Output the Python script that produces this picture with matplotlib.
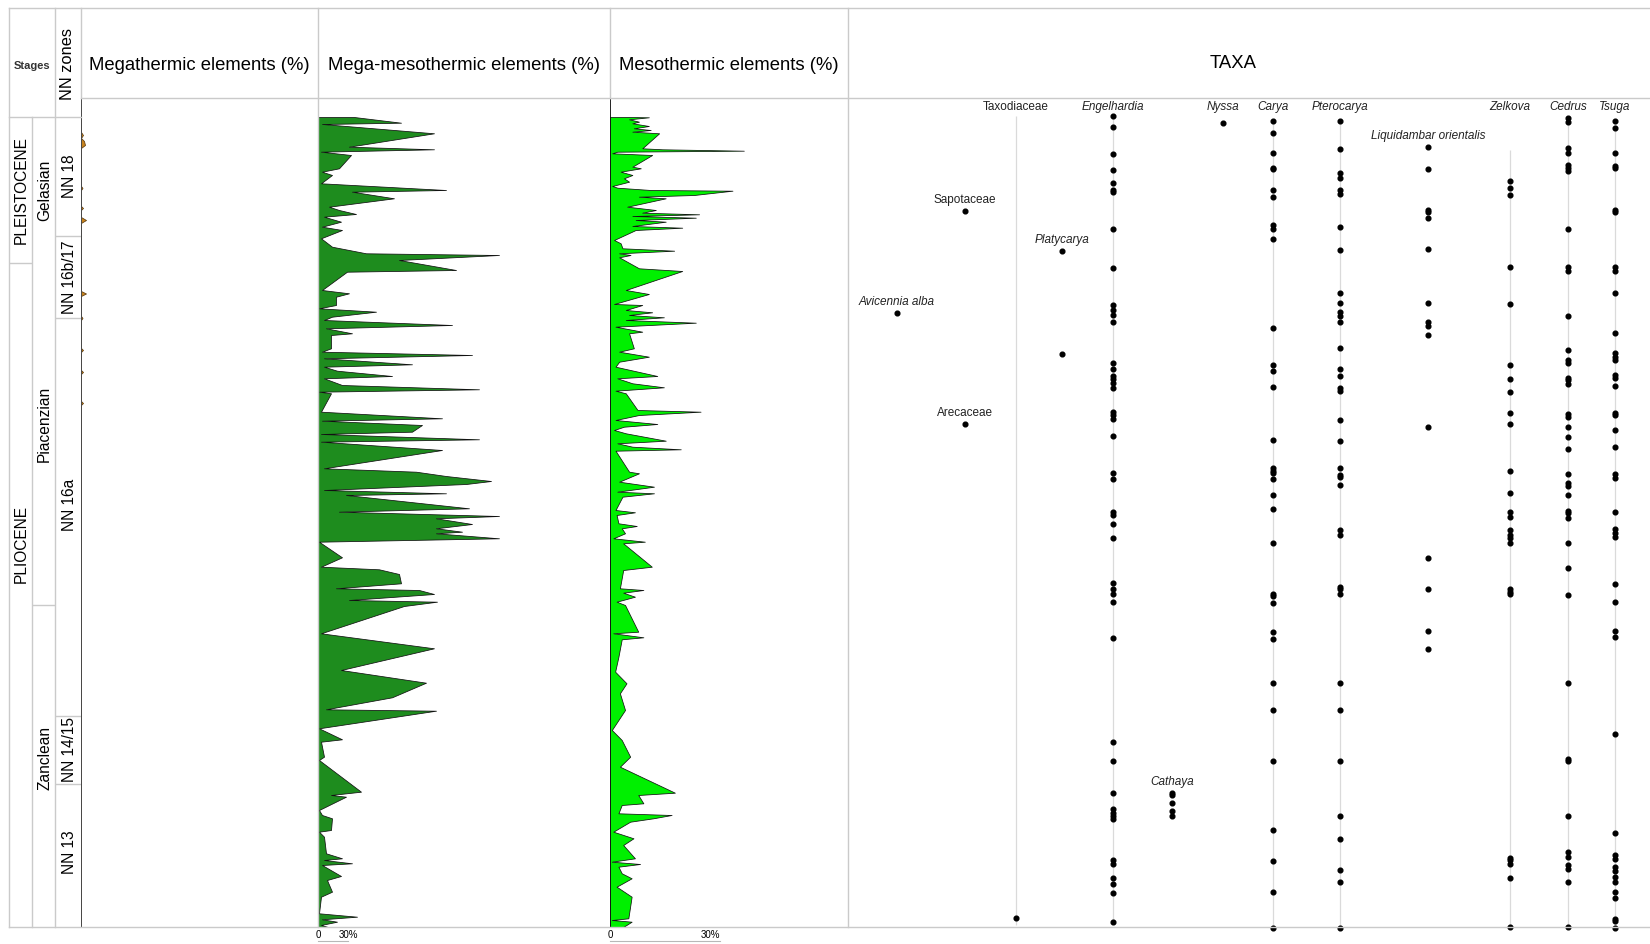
import matplotlib
matplotlib.use("Agg")
import matplotlib.pyplot as plt
from matplotlib.lines import Line2D

plt.rcParams['font.family'] = ['Liberation Sans', 'DejaVu Sans']

# ---------------------------------------------------------------- data
# depth is in arbitrary log units (top of record = 117, base = 927)
epochs = ['PLEISTOCENE', 'PLIOCENE']
epoch_label_at = [190, 544]
epoch_bounds = [263]

stages = ['Gelasian', 'Piacenzian', 'Zanclean']
stage_label_at = [190, 424, 758]
stage_bounds = [605]

nn_zones = ['NN 18', 'NN 16b/17', 'NN 16a', 'NN 14/15', 'NN 13']
nn_label_at = [176, 277, 505, 750, 852]
nn_bounds = [236, 318, 716, 784]

# Megathermic elements (%)
mega_depth = [117, 132, 135, 138, 141, 145, 148, 186, 188, 190, 206, 208, 210,
              217, 220, 223, 291, 293.5, 296, 316, 318, 320, 348, 350, 352,
              370, 372, 374, 401, 403, 405, 927]
mega_val = [0, 0, 2, 0, 3, 4, 0, 0, 1.5, 0, 0, 2, 0, 0, 5, 0, 0, 5, 0, 0, 1.5, 0,
            0, 2, 0, 0, 2, 0, 0, 2, 0, 0]

# Mega-mesothermic elements (%)
mm_depth = [117, 122.7, 124, 133.3, 146.7, 149.3, 151.7, 155, 168.3, 171.7,
            175, 183.3, 190, 191.7, 198.3, 206.7, 210, 214, 216.7, 221.7,
            226.7, 230, 238.3, 246.7, 253.3, 255, 260, 270, 271.7, 290,
            293.3, 296.7, 305, 308.3, 311.7, 316.7, 320, 325, 328.3, 333.3,
            335, 348.3, 351.7, 355, 358.3, 364.3, 366.7, 370.7, 376, 378.3,
            385, 389.3, 391.7, 393.3, 411.7, 418.3, 420.7, 425, 431.7, 434,
            439.3, 441.7, 450, 468.3, 471.7, 476, 481, 484, 490, 493.3,
            495, 508.3, 511.7, 516, 518.3, 524, 528.3, 531.7, 533.3, 538.3,
            541.7, 557.3, 566.7, 569.3, 574, 583.3, 588.3, 590, 594, 600,
            601.7, 606, 633.3, 648.3, 670, 682.7, 697.3, 709.3, 710.7, 728.3,
            739.3, 741.7, 756.7, 760, 791.7, 795, 796.7, 810, 815, 818.3,
            830, 831.7, 836.7, 853.3, 858.3, 860, 863.3, 865, 876, 880,
            891.7, 896.7, 913.3, 916.7, 919.3, 921.7, 925, 927]
mm_val = [36, 83, 4, 116, 31, 116, 3, 33, 21, 4,
          14, 3, 128, 34, 76, 11, 21, 38, 6, 23,
          4, 24, 3, 14, 48, 181, 81, 138, 29, 4,
          31, 18, 18, 1, 58, 14, 6, 134, 8, 34,
          13, 13, 4, 154, 6, 94, 6, 19, 74, 6,
          24, 161, 1, 13, 3, 124, 4, 104, 94, 3,
          161, 3, 124, 6, 98, 128, 173, 148, 6, 128,
          28, 151, 21, 181, 118, 154, 118, 144, 118, 181,
          1, 24, 3, 61, 81, 83, 18, 101, 116, 31,
          119, 86, 3, 116, 23, 108, 74, 8, 118, 1,
          24, 3, 6, 1, 43, 13, 28, 1, 4, 14,
          13, 1, 6, 8, 24, 6, 34, 4, 23, 9,
          14, 3, 1, 39, 4, 19, 3, 10]

# Mesothermic elements (%)
meso_depth = [117, 117.3, 119.3, 121.7, 123.3, 126, 128.3, 130, 131.7, 133.3,
              148.3, 149.3, 150.7, 151.7, 153.3, 155, 166.7, 168.3, 171.7, 175,
              178.3, 181.7, 186, 187.7, 190, 190.7, 195, 196.7, 198.3, 206.7,
              210, 212.7, 214.3, 216, 217.7, 220, 221.7, 226, 227.7, 230,
              240, 243.3, 248.3, 250.7, 253.3, 255, 257.3, 268.3, 271, 290,
              294, 298.3, 304, 305, 310, 312.3, 315, 317.3, 320, 322.7,
              326.7, 331.7, 333.3, 348.3, 351.7, 356.7, 361.7, 366.7, 376, 378.3,
              383.3, 387.3, 390.7, 393.3, 410, 411.7, 415, 420, 424, 426.7,
              430, 433.3, 440.7, 443.3, 446.7, 449.3, 450.7, 471.7, 473.3, 481.7,
              486.7, 491.7, 493.3, 496.7, 510, 512.3, 515, 523.3, 526, 528.3,
              533.3, 538.3, 541.7, 543.3, 566.7, 570, 588.3, 590, 592.7, 596.7,
              601.7, 605, 631.7, 633.3, 637.3, 639.3, 656.7, 671.7, 683.3, 693.3,
              710, 730, 740, 756.7, 766.7, 792.7, 795, 803.3, 805, 813.3,
              815, 818.3, 821.7, 831.7, 838.3, 845, 858.3, 861.7, 864, 866.7,
              873.3, 878.3, 886.7, 896.7, 918.3, 920, 921.7, 927]
meso_val = [5.2, 10.6, 5.2, 7.9, 6.1, 10.6, 6.5, 11.1, 6.1, 13.4,
            8.8, 14.3, 36.5, 2.0, 0.6, 11.5, 6.1, 8.4, 2.9, 6.1,
            3.8, 5.2, 0.6, 2.0, 11.1, 33.4, 22.9, 7.9, 15.2, 4.7,
            12.5, 8.8, 24.3, 6.1, 23.4, 7.0, 15.2, 6.1, 19.7, 7.0,
            1.1, 2.9, 3.4, 17.5, 2.5, 5.6, 2.5, 7.9, 19.7, 4.3,
            10.6, 6.5, 1.1, 8.8, 4.3, 11.5, 5.2, 14.7, 4.3, 23.4,
            1.5, 8.8, 5.2, 6.5, 2.5, 10.6, 2.5, 1.5, 12.9, 2.0,
            6.1, 14.7, 1.5, 4.3, 7.5, 24.7, 7.9, 1.5, 12.9, 3.8,
            1.1, 4.3, 15.2, 2.0, 6.1, 19.3, 1.5, 5.2, 7.9, 2.5,
            12.0, 2.0, 12.0, 3.4, 1.5, 6.8, 1.8, 2.3, 7.3, 3.2,
            4.1, 0.9, 9.5, 3.6, 11.4, 3.6, 2.7, 9.1, 3.6, 6.8,
            1.8, 4.1, 7.7, 0.9, 9.1, 3.2, 2.3, 1.4, 4.5, 2.7,
            4.1, 0.5, 3.2, 5.5, 2.7, 17.7, 7.7, 9.1, 3.2, 2.3,
            16.8, 11.8, 5.5, 0.9, 6.4, 3.6, 6.8, 0.5, 8.2, 2.3,
            3.2, 5.9, 1.8, 5.9, 5.0, 0.5, 5.9, 3.6]

# Taxa occurrences (depths of samples where the taxon is recorded)
occ_taxodiaceae = [917.7]
occ_sapotaceae = [211.3]
occ_arecaceae = [423.7]
occ_avicennia = [313.3]
occ_platycarya = [250.7, 354]
occ_engelhardia = [116, 127, 153.6, 170, 182.7, 190, 192.3, 229, 267.7, 305, 310,
                   315, 321.7, 362.7, 369.3, 376, 379.3, 382.7, 387.7, 411.7, 415,
                   419.3, 436.3, 472.7, 479, 511.7, 515, 524, 538.3, 583.3, 589,
                   594.3, 602, 638.3, 741.7, 760.7, 792.7, 809.3, 812.7, 816,
                   819.3, 860, 864.3, 877.7, 883.7, 892.7, 922.3]
occ_cathaya = [793, 795, 803.3, 811, 816]
occ_nyssa = [123]
occ_carya = [121, 132.6, 153.3, 167.7, 169.3, 190, 196.7, 225, 229, 238.7, 327.7,
             365, 370.7, 386.7, 440, 468.3, 471, 473.3, 479, 495, 509, 542.7,
             594.3, 596, 602.7, 631.7, 639, 682.7, 710.3, 760.7, 830, 860.7,
             892.3, 928]
occ_pterocarya = [121, 149.3, 173.3, 177.7, 190, 194.3, 227, 250, 293, 303,
                  311.7, 316, 322, 348, 369.3, 375.7, 388.3, 390.7, 420, 441,
                  468.3, 475, 476.7, 485, 530, 535, 587.3, 589.3, 594.3, 682.7,
                  710.3, 760.7, 815.7, 839, 870, 881.7, 928]
occ_liquidambar = [146.7, 169.3, 210, 212.3, 218.3, 249.3, 302.7, 322, 326, 334.7,
                   426.7, 557.7, 589.3, 630.7, 649.3]
occ_zelkova = [180.7, 187.7, 195, 267.3, 303.7, 365, 379.3, 392.3, 413.3, 424, 471,
               492.7, 512.3, 517.3, 530, 535.5, 538.5, 542.7, 589.3, 591.7, 594.3,
               857.7, 860, 864.3, 878.3, 926.7]
occ_cedrus = [118, 122, 148.3, 153.3, 165, 168.3, 170.7, 229, 267.3, 271, 315.7,
              350, 360, 363.3, 377.7, 380, 383.7, 414, 417.3, 427.3, 436.7, 449.3,
              474.3, 483.3, 485.7, 495, 510.7, 513.3, 517.7, 542.7, 567.7, 595,
              682.7, 759.3, 761, 816, 851.7, 857.3, 865, 869, 881.7, 926.7]
occ_tsuga = [121, 128.4, 153.3, 165.7, 167.7, 210, 211.7, 267.3, 271, 292.7, 332.7,
             353.3, 356.7, 360, 375, 378.3, 385.7, 413.3, 415.3, 430, 447.3, 474.3,
             478.3, 512.3, 529.3, 533.3, 536.7, 584, 602, 630.7, 637, 734.3, 833.3,
             855, 859.3, 866.7, 871, 876.7, 882, 891.7, 898.3, 919.3, 921, 927.7]

# continuous (near-zero) curve extent for the main taxa
range_taxa = ['Taxodiaceae', 'Engelhardia', 'Carya', 'Pterocarya', 'Zelkova', 'Cedrus', 'Tsuga']
range_top = [116, 116, 121, 121, 150, 118, 121]
range_base = [925, 922, 928, 928, 927, 927, 928]

# ---------------------------------------------------------------- layout
W, H = 1650, 944
fig = plt.figure(figsize=(W / 100, H / 100), dpi=100)

TOP, HDR, PROF, BOT = 8, 98, 117, 927
X_EP, X_ST, X_NN, X_MEGA, X_MM, X_MESO, X_TAXA, X_END = 9, 32, 55, 81, 318, 610, 848, 1650
D_TOP, D_BOT, D_HDR = 117, 927, 98   # depth range of the record / header limit

def rect(x0, y0, x1, y1):
    return [x0 / W, 1 - y1 / H, (x1 - x0) / W, (y1 - y0) / H]

def fx(x):
    return x / W

def fy(y):
    return 1 - y / H

GRID = '#cacaca'

def hline(y, x0, x1, c=GRID, lw=1.0):
    fig.add_artist(Line2D([fx(x0), fx(x1)], [fy(y), fy(y)], color=c, lw=lw))

def vline(x, y0, y1, c=GRID, lw=1.0):
    fig.add_artist(Line2D([fx(x), fx(x)], [fy(y0), fy(y1)], color=c, lw=lw))

# frame
hline(TOP, X_EP, X_END)
hline(BOT, X_EP, X_END)
hline(HDR, X_MEGA, X_END)
hline(PROF, X_EP, X_MEGA)
vline(X_EP, TOP, BOT)
vline(X_ST, PROF, BOT)
vline(X_NN, TOP, BOT)
vline(X_MEGA, TOP, HDR)
vline(X_MM, TOP, BOT)
vline(X_MESO, TOP, HDR)
vline(X_TAXA, TOP, BOT)

# headers
def ftext(x, y, s, **kw):
    fig.text(fx(x), fy(y), s, ha='center', va='center', **kw)

ftext(32, 66, 'Stages', fontsize=8, fontweight='bold', color='#333333')
ftext(68, 64, 'NN zones', fontsize=11.8, rotation=90)
ftext(199, 65, 'Megathermic elements (%)', fontsize=13.3)
ftext(464, 65, 'Mega-mesothermic elements (%)', fontsize=13.3)
ftext(729, 65, 'Mesothermic elements (%)', fontsize=13.3)
ftext(1233, 63, 'TAXA', fontsize=13.3)

# chronostratigraphic columns
def chrono(x0, x1, names, label_at, bounds):
    ax = fig.add_axes(rect(x0, PROF, x1, BOT))
    ax.set_xlim(0, 1)
    ax.set_ylim(D_BOT, D_TOP)
    ax.axis('off')
    for b in bounds:
        ax.axhline(b, color=GRID, lw=1.0)
    for n, d in zip(names, label_at):
        ax.text(0.55, d, n, rotation=90, ha='center', va='center', fontsize=11.2)

chrono(X_EP, X_ST, epochs, epoch_label_at, epoch_bounds)
chrono(X_ST, X_NN, stages, stage_label_at, stage_bounds)
chrono(X_NN, X_MEGA, nn_zones, nn_label_at, nn_bounds)

# percentage panels
def profile(x0, x1, depth, val, xmax, face, edge, base_c, base_lw):
    ax = fig.add_axes(rect(x0, HDR, x1, BOT))
    ax.set_xlim(0, xmax)
    ax.set_ylim(D_BOT, D_HDR)
    ax.axis('off')
    ax.fill_betweenx(depth, 0, val, facecolor=face, edgecolor=edge, lw=0.55)
    ax.vlines(0, D_HDR, D_BOT, color=base_c, lw=base_lw)
    return ax

MM_SCALE = 1.0            # 30 % = 30 px on the mega-mesothermic scale bar
MESO_SCALE = 110 / 30     # 30 % = 110 px on the mesothermic scale bar

ax_mega = profile(X_MEGA, X_MM, mega_depth, mega_val, (X_MM - X_MEGA) / MM_SCALE,
                  '#c8841f', '#5c3a0c', '#4a4a4a', 1.4)
ax_mm = profile(X_MM, X_MESO, mm_depth, mm_val, (X_MESO - X_MM) / MM_SCALE,
                '#1e8c1e', '#111111', '#9c9c9c', 1.3)
ax_meso = profile(X_MESO, X_TAXA, meso_depth, meso_val, (X_TAXA - X_MESO) / MESO_SCALE,
                  '#00f000', '#111111', '#111111', 1.3)

# scale bars
for ax, lab_ha in ((ax_mm, 'center'), (ax_meso, 'right')):
    ax.plot([0, 30], [941, 941], color='#b8b8b8', lw=0.8, clip_on=False)
    ax.text(0, 935.5, '0', fontsize=7, ha='center', va='center', clip_on=False)
    ax.text(30, 935.5, '30%', fontsize=7, ha=lab_ha, va='center', clip_on=False)

# taxa panel
axT = fig.add_axes(rect(X_TAXA, HDR, X_END, BOT))
axT.set_xlim(0, X_END - X_TAXA)
axT.set_ylim(D_BOT, D_HDR)
axT.axis('off')

TAXA_X = {'Avicennia alba': 49, 'Sapotaceae': 117, 'Arecaceae': 117,
          'Taxodiaceae': 168, 'Platycarya': 214, 'Engelhardia': 265,
          'Cathaya': 324, 'Nyssa': 375, 'Carya': 425, 'Pterocarya': 492,
          'Liquidambar orientalis': 580, 'Zelkova': 662, 'Cedrus': 720,
          'Tsuga': 767}

taxa = [
    ('Taxodiaceae', occ_taxodiaceae, 'normal', 'top'),
    ('Sapotaceae', occ_sapotaceae, 'normal', 'inline'),
    ('Arecaceae', occ_arecaceae, 'normal', 'inline'),
    ('Avicennia alba', occ_avicennia, 'italic', 'inline'),
    ('Platycarya', occ_platycarya, 'italic', 'inline'),
    ('Engelhardia', occ_engelhardia, 'italic', 'top'),
    ('Cathaya', occ_cathaya, 'italic', 'inline'),
    ('Nyssa', occ_nyssa, 'italic', 'top'),
    ('Carya', occ_carya, 'italic', 'top'),
    ('Pterocarya', occ_pterocarya, 'italic', 'top'),
    ('Liquidambar orientalis', occ_liquidambar, 'italic', 'inline'),
    ('Zelkova', occ_zelkova, 'italic', 'top'),
    ('Cedrus', occ_cedrus, 'italic', 'top'),
    ('Tsuga', occ_tsuga, 'italic', 'top'),
]

for name, top, base in zip(range_taxa, range_top, range_base):
    axT.vlines(TAXA_X[name], top, base, color='#dadada', lw=0.9)

for name, occ, style, where in taxa:
    x = TAXA_X[name]
    axT.plot([x] * len(occ), occ, 'o', ms=3.4, color='black', ls='none',
             clip_on=False)
    ylab = 107 if where == 'top' else min(occ) - 11
    axT.text(x, ylab, name, fontsize=8.5, style=style, ha='center',
             va='center', color='#222222')

fig.savefig('out.png', dpi=100)
